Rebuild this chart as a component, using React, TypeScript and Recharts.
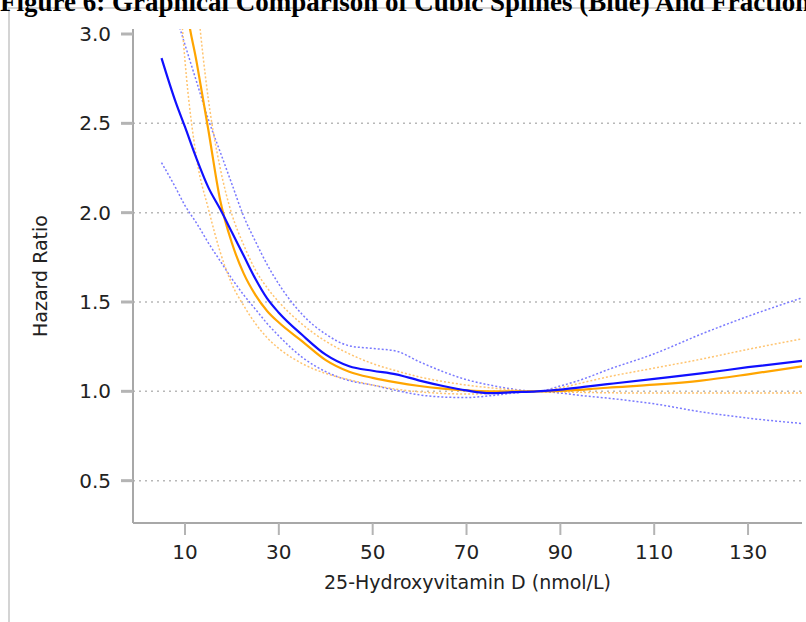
import React from 'react';
import { LineChart, Line, XAxis, YAxis, ReferenceLine } from 'recharts';

const xValues = [5, 8, 10, 12.5, 15, 17.5, 20, 22.5, 25, 27.5, 30, 35, 40, 45, 50, 55, 60, 65, 70, 75, 80, 85, 90, 95, 100, 110, 120, 130, 141.5];

const splineEst = [2.865, 2.62, 2.48, 2.3, 2.14, 2.02, 1.89, 1.76, 1.63, 1.52, 1.44, 1.315, 1.205, 1.14, 1.115, 1.095, 1.06, 1.03, 1.005, 0.99, 0.995, 1.0, 1.01, 1.025, 1.04, 1.07, 1.1, 1.135, 1.17];
const splineUpper = [3.38, 3.11, 2.94, 2.73, 2.52, 2.34, 2.16, 1.98, 1.84, 1.71, 1.6, 1.43, 1.32, 1.255, 1.24, 1.225, 1.165, 1.11, 1.065, 1.035, 1.012, 1.0, 1.03, 1.07, 1.12, 1.21, 1.32, 1.42, 1.523];
const splineLower = [2.28, 2.14, 2.04, 1.94, 1.83, 1.73, 1.63, 1.54, 1.46, 1.38, 1.31, 1.19, 1.11, 1.06, 1.035, 1.005, 0.98, 0.968, 0.965, 0.975, 0.99, 1.0, 0.99, 0.975, 0.962, 0.93, 0.885, 0.85, 0.82];
const fpEst = [4.9, 3.85, 3.22, 2.84, 2.46, 2.07, 1.83, 1.66, 1.54, 1.45, 1.385, 1.28, 1.175, 1.11, 1.075, 1.05, 1.03, 1.015, 1.005, 1.0, 1.0, 1.0, 1.003, 1.01, 1.02, 1.037, 1.06, 1.095, 1.14];
const fpUpper = [6.0, 4.6, 4.0, 3.22, 2.63, 2.25, 1.99, 1.82, 1.68, 1.58, 1.5, 1.375, 1.28, 1.21, 1.155, 1.115, 1.08, 1.055, 1.035, 1.02, 1.008, 1.0, 1.02, 1.05, 1.08, 1.13, 1.18, 1.235, 1.294];
const fpLower = [5.0, 3.6, 2.85, 2.3, 2.02, 1.78, 1.6, 1.48, 1.38, 1.3, 1.24, 1.155, 1.1, 1.065, 1.035, 1.012, 0.997, 0.988, 0.985, 0.988, 0.994, 1.0, 0.997, 0.994, 0.992, 0.99, 0.99, 0.99, 0.99];

const xTicks = [10, 30, 50, 70, 90, 110, 130];
const yTicks = [0.5, 1.0, 1.5, 2.0, 2.5, 3.0];
const gridValues = [0.5, 1.0, 1.5, 2.0, 2.5];
const xDomain = [-1.08, 141.5];
const yDomain = [0.263, 3.028];

const titleText = 'Figure 6: Graphical Comparison of Cubic Splines (Blue) And Fractional Polynomials (Orange)';
const xTitle = '25-Hydroxyvitamin D (nmol/L)';
const yTitle = 'Hazard Ratio';

const data = xValues.map((x, i) => ({
  x,
  splineEst: splineEst[i],
  splineUpper: splineUpper[i],
  splineLower: splineLower[i],
  fpEst: fpEst[i],
  fpUpper: fpUpper[i],
  fpLower: fpLower[i],
}));

const FONT = '"DejaVu Sans", sans-serif';
const AXIS_GRAY = '#a8a8a8';
const TEXT = '#222';

const YLabel = (props: any) => {
  const vb = props.viewBox;
  const x = 40;
  const y = vb.y + vb.height / 2;
  return (
    <text x={x} y={y} transform={`rotate(-90, ${x}, ${y})`} textAnchor="middle" dominantBaseline="central" fontFamily={FONT} fontSize={19} fill={TEXT}>
      {yTitle}
    </text>
  );
};

const XLabel = (props: any) => {
  const vb = props.viewBox;
  return (
    <text x={vb.x + vb.width / 2} y={vb.y + 66} textAnchor="middle" fontFamily={FONT} fontSize={19} fill={TEXT}>
      {xTitle}
    </text>
  );
};

export default function App() {
  return (
    <div style={{ position: 'absolute', left: 0, top: 0, width: 806, height: 622, overflow: 'hidden', background: '#fff' }}>
      <div style={{ position: 'absolute', left: 8, top: 7, width: 800, height: 620, borderTop: '2px solid #d4d4d4', borderLeft: '2px solid #d4d4d4' }} />
      <div style={{ position: 'absolute', left: 0, top: -13, whiteSpace: 'nowrap', fontFamily: '"Liberation Serif", serif', fontWeight: 'bold', fontSize: 27, lineHeight: 'normal', color: '#000' }}>
        {titleText}
      </div>
      <div style={{ position: 'absolute', left: 0, top: 0 }}>
        <LineChart width={806} height={622} data={data} margin={{ top: 29, right: 4, bottom: 0, left: 33 }}>
          {gridValues.map((v) => (
            <ReferenceLine key={v} y={v} stroke="#b8b8b8" strokeWidth={1.5} strokeDasharray="2 4" ifOverflow="hidden" />
          ))}
          <XAxis
            dataKey="x"
            type="number"
            domain={xDomain}
            ticks={xTicks}
            allowDataOverflow
            height={99}
            tickSize={12}
            tickMargin={10}
            axisLine={{ stroke: AXIS_GRAY, strokeWidth: 2 }}
            tickLine={{ stroke: '#b4b4b4', strokeWidth: 2 }}
            tick={{ fontFamily: FONT, fontSize: 20, fill: TEXT }}
            label={<XLabel />}
          />
          <XAxis xAxisId="top" orientation="top" type="number" domain={xDomain} height={0} tick={false} tickLine={false} axisLine={{ stroke: AXIS_GRAY, strokeWidth: 2 }} />
          <YAxis
            type="number"
            domain={yDomain}
            ticks={yTicks}
            allowDataOverflow
            width={100}
            tickSize={12}
            tickMargin={10}
            tickFormatter={(v: number) => v.toFixed(1)}
            axisLine={{ stroke: AXIS_GRAY, strokeWidth: 2 }}
            tickLine={{ stroke: '#b4b4b4', strokeWidth: 3 }}
            tick={{ fontFamily: FONT, fontSize: 20, fill: TEXT }}
            label={<YLabel />}
          />
          <YAxis yAxisId="right" orientation="right" type="number" domain={yDomain} width={0} tick={false} tickLine={false} axisLine={{ stroke: AXIS_GRAY, strokeWidth: 2 }} />
          <Line type="monotone" dataKey="splineUpper" stroke="#7a7aff" strokeWidth={1.5} strokeDasharray="2 2" dot={false} isAnimationActive={false} />
          <Line type="monotone" dataKey="splineLower" stroke="#7a7aff" strokeWidth={1.5} strokeDasharray="2 2" dot={false} isAnimationActive={false} />
          <Line type="monotone" dataKey="fpUpper" stroke="#ffc470" strokeWidth={1.5} strokeDasharray="2 2" dot={false} isAnimationActive={false} />
          <Line type="monotone" dataKey="fpLower" stroke="#ffc470" strokeWidth={1.5} strokeDasharray="2 2" dot={false} isAnimationActive={false} />
          <Line type="monotone" dataKey="fpEst" stroke="#ffa500" strokeWidth={2.2} dot={false} isAnimationActive={false} />
          <Line type="monotone" dataKey="splineEst" stroke="#1010ff" strokeWidth={2.2} dot={false} isAnimationActive={false} />
        </LineChart>
      </div>
    </div>
  );
}
